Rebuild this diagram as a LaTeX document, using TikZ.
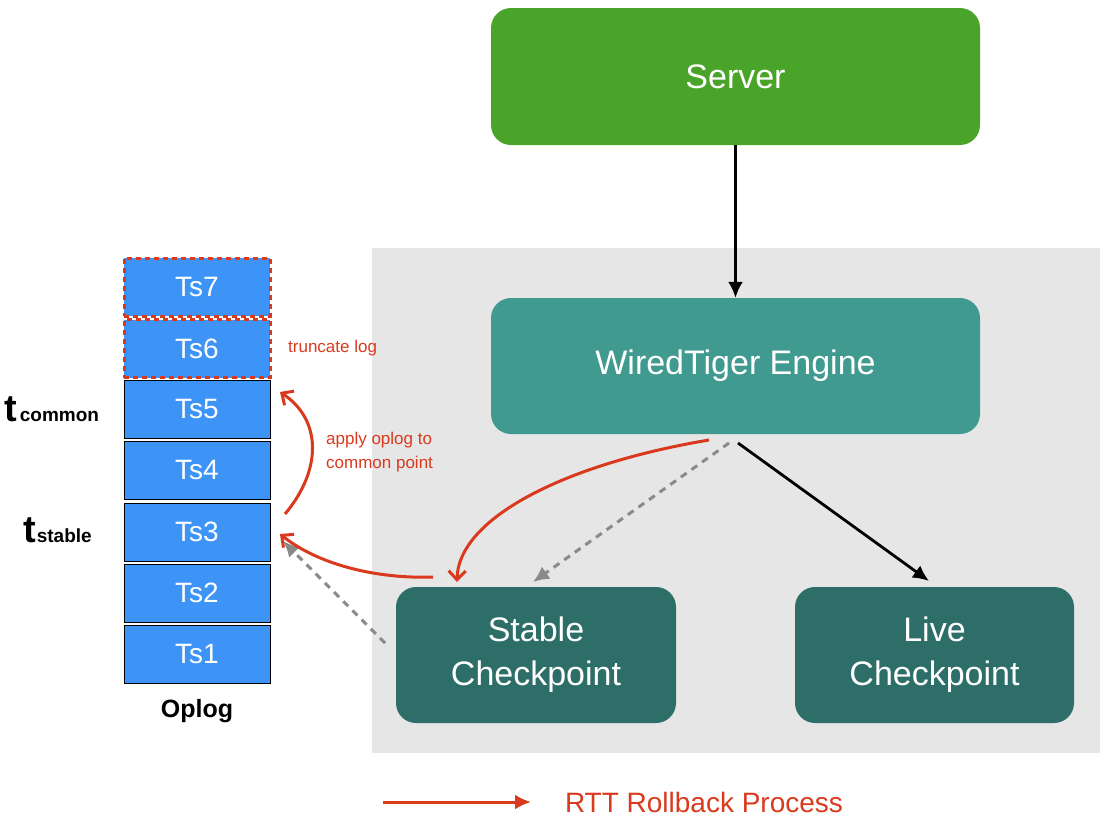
\documentclass[tikz,border=0pt]{standalone}
\usepackage{fontspec}
\setmainfont{Liberation Sans}
\usetikzlibrary{arrows.meta}
\definecolor{srvgreen}{HTML}{4AA42A}
\definecolor{engteal}{HTML}{419A90}
\definecolor{ckdark}{HTML}{2E6E69}
\definecolor{opblue}{HTML}{3D94F6}
\definecolor{rttred}{HTML}{D93A1E}
\definecolor{bggray}{HTML}{E6E6E6}
\definecolor{dashgray}{HTML}{8A8A8A}
\begin{document}
\begin{tikzpicture}[x=1pt,y=-1pt,
  bigbox/.style={rectangle, rounded corners=20pt, text=white, align=center, inner sep=0pt,
     font=\fontsize{34}{44}\selectfont},
  opbox/.style={rectangle, draw=black, line width=1pt, fill=opblue, minimum width=146pt,
     minimum height=58pt, text=white, inner sep=0pt, font=\fontsize{28}{30}\selectfont},
  truncbox/.style={opbox, draw=rttred, line width=3pt, dash pattern=on 5pt off 4pt},
  redlbl/.style={text=rttred, font=\fontsize{17}{24}\selectfont, align=left, inner sep=0pt},
  blackarrow/.style={draw=black, line width=2.8pt, -{Latex[length=16pt,width=15pt]}},
  grayarrow/.style={draw=dashgray, line width=3pt, dash pattern=on 7pt off 6pt, -{Latex[length=16pt,width=15pt]}},
  redarrow/.style={draw=rttred, line width=3pt, -{Straight Barb[length=9pt,width=17pt]}},
]
\useasboundingbox (0,0) rectangle (1106,820);
\fill[bggray] (372,248) rectangle (1100,753);

% main boxes
\node[bigbox, fill=srvgreen, minimum width=489pt, minimum height=137pt] (server) at (735.5,76.5) {Server};
\node[bigbox, fill=engteal, minimum width=489pt, minimum height=136pt] (engine) at (735.5,366) {WiredTiger Engine};
\node[bigbox, fill=ckdark, minimum width=280pt, minimum height=136pt] (stable) at (536,655) {Stable\\Checkpoint};
\node[bigbox, fill=ckdark, minimum width=279pt, minimum height=136pt] (live) at (934.5,655) {Live\\Checkpoint};

% oplog
\node[truncbox] (ts7) at (197,287) {Ts7};
\node[truncbox] (ts6) at (197,348.5) {Ts6};
\node[opbox] (ts5) at (197,409) {Ts5};
\node[opbox] (ts4) at (197,470) {Ts4};
\node[opbox] (ts3) at (197,532) {Ts3};
\node[opbox] (ts2) at (197,593) {Ts2};
\node[opbox] (ts1) at (197,654) {Ts1};
\node[font=\fontsize{25}{28}\selectfont\bfseries, inner sep=0pt] (oplog) at (197,711) {Oplog};

\node[inner sep=0pt, anchor=base west] (tcommon) at (4,421) {\fontsize{38}{40}\selectfont\bfseries t\hspace{3pt}\fontsize{19}{24}\selectfont common};
\node[inner sep=0pt, anchor=base west] (tstable) at (23,542) {\fontsize{38}{40}\selectfont\bfseries t\hspace{1pt}\fontsize{19}{24}\selectfont stable};

\node[redlbl, anchor=west] (trunc) at (288,348) {truncate log};
\node[redlbl, anchor=west] (apply) at (326,452) {apply oplog to\\common point};

% connector end points
\coordinate (engSL) at (709,440);
\coordinate (engSM) at (729,443);
\coordinate (engSR) at (738,443);
\coordinate (stTopL) at (457,582);
\coordinate (stTopM) at (533,582);
\coordinate (liveTop) at (929,581);
\coordinate (stLeftT) at (433,577);
\coordinate (stLeftM) at (385,643);
\coordinate (ts3R) at (280,534);
\coordinate (ts3RB) at (283,541);
\coordinate (ts3RT) at (285,514);
\coordinate (ts5R) at (280,392);

\draw[blackarrow] (server.south) -- (engine.north);
\draw[blackarrow] (engSR) -- (liveTop);
\draw[grayarrow] (engSM) -- (stTopM);
\draw[grayarrow] (stLeftM) -- (ts3RB);
\draw[redarrow] (engSL) .. controls (560,465) and (458,520) .. (stTopL);
\draw[redarrow] (stLeftT) .. controls (380,579) and (320,566) .. (ts3R);
\draw[redarrow] (ts3RT) .. controls (322,470) and (322,420) .. (ts5R);

% legend
\coordinate (legA) at (383,802);
\coordinate (legB) at (531,802);
\draw[draw=rttred, line width=3pt, -{Latex[length=16pt,width=15pt]}] (legA) -- (legB);
\node[text=rttred, font=\fontsize{28}{30}\selectfont, inner sep=0pt] (legend) at (704,802) {RTT Rollback Process};
\end{tikzpicture}
\end{document}
